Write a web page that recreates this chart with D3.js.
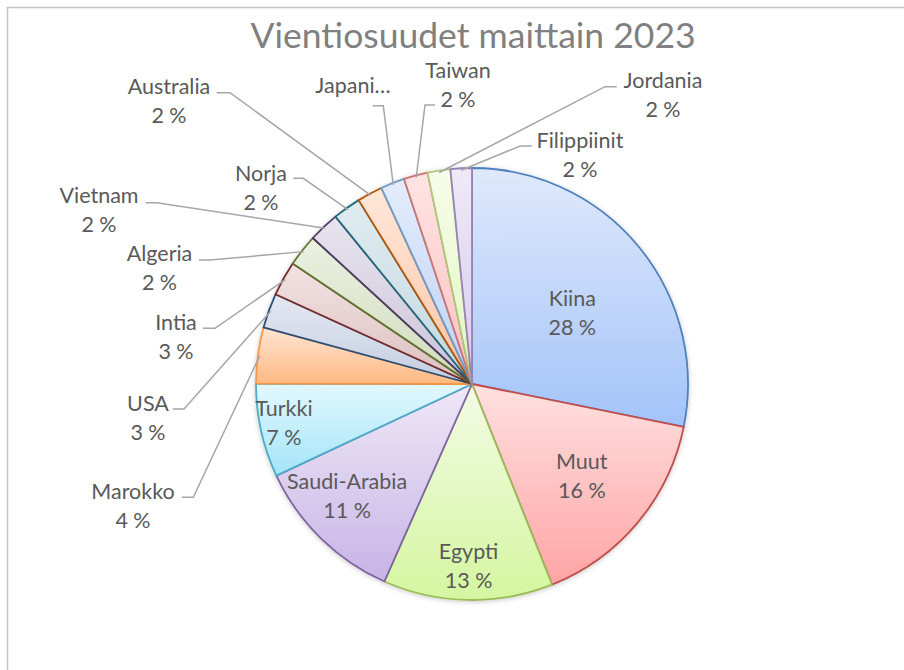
<!DOCTYPE html>
<html>
<head>
<meta charset="utf-8">
<script src="https://cdn.jsdelivr.net/npm/d3@7"></script>
<style>
  body { margin: 0; background: #fff; }
  svg { display: block; }
</style>
</head>
<body>
<div id="chart"></div>
<script>
// DATA
const title = "Vientiosuudet maittain 2023";
const countries = ["Kiina", "Muut", "Egypti", "Saudi-Arabia", "Turkki", "Marokko", "USA", "Intia",
  "Algeria", "Vietnam", "Norja", "Australia", "Japani", "Taiwan", "Jordania", "Filippiinit"];
const shares = [28.2, 15.8, 12.7, 11.4, 7.0, 4.2, 2.6, 2.6, 2.4, 2.3, 2.1, 1.9, 1.8, 1.8, 1.7, 1.6];

// COLOURS (outline, gradient top, gradient bottom)
const strokeColors = ["#4f81bd", "#c0504d", "#9bbb59", "#8064a2", "#4bacc6", "#f79646", "#2c4d75", "#772c2a",
  "#5f7530", "#4d3b62", "#276a7c", "#b65708", "#729aca", "#cd7371", "#afc97a", "#9983b5"];
const lightColors = ["#dfe9fb", "#ffe1e1", "#f3fbe5", "#efe8f7", "#e3f8ff", "#ffe4d3", "#e4e8f2", "#f2e2e2",
  "#ebf0e1", "#e8e4ee", "#e0ecf0", "#ffe7d9", "#e3ecfb", "#ffe4e4", "#f6fde9", "#efe9f7"];
const darkColors = ["#a3c3f9", "#ffa4a4", "#d4f6a0", "#c7b4e6", "#a3e4f8", "#ffb982", "#c3cde0", "#dcbfbf",
  "#d0dcbc", "#cbc3d9", "#c2d8e0", "#fdc4a4", "#bed2f4", "#fdc0c0", "#e2f6c2", "#d6cbec"];

// label layout: inside labels as [radius, angle nudge in degrees],
// outside labels by spot + leader hook [textSideX, elbowX, y]
const insideSpots = {
  "Kiina": [123, 3.9],
  "Muut": [143, 0],
  "Egypti": [182, 0],
  "Saudi-Arabia": [168, 3.6],
  "Turkki": [192, 0.9]
};
const outsideSpots = {
  "Marokko":     { at: [133, 491], hook: [181.7, 193.3, 497.3] },
  "USA":         { at: [148, 403], hook: [172.7, 184, 409] },
  "Intia":       { at: [176, 322], hook: [203, 215, 328.3] },
  "Algeria":     { at: [159.5, 253], hook: [199, 210, 260] },
  "Vietnam":     { at: [99, 195], hook: [145.7, 156.7, 202.7] },
  "Norja":       { at: [261, 172.5], hook: [293.3, 303.3, 178.3] },
  "Australia":   { at: [169, 86], hook: [216.7, 230, 92.7] },
  "Japani":      { at: [353, 85], hook: [372.7, 383.3, 105.7], clip: "Japani\u2026" },
  "Taiwan":      { at: [458, 70], hook: [435, 425, 105] },
  "Jordania":    { at: [663, 80], hook: [616.7, 605, 86.7] },
  "Filippiinit": { at: [580, 140], hook: [531.7, 520, 146] }
};

const W = 904, H = 670;
const cx = 472, cy = 384, R = 216;

const svg = d3.select("#chart").append("svg")
  .attr("width", W)
  .attr("height", H);

// chart frame
svg.append("rect")
  .attr("x", 7.5).attr("y", 7.5)
  .attr("width", W + 20).attr("height", H + 20)
  .attr("fill", "#fff")
  .attr("stroke", "#c4c4c4")
  .attr("stroke-width", 1.5);

// title
svg.append("text")
  .attr("x", 473).attr("y", 48)
  .attr("text-anchor", "middle")
  .style("font-family", "Lato, 'Open Sans', sans-serif")
  .style("font-size", "35.5px")
  .style("fill", "#808080")
  .text(title);

const data = countries.map((name, i) => ({ name, v: shares[i], i }));
const total = d3.sum(shares);
const pct = d => Math.round(d.data.v / total * 100) + " %";

const defs = svg.append("defs");
data.forEach((d, i) => {
  const g = defs.append("linearGradient")
    .attr("id", "grad" + i)
    .attr("x1", 0).attr("y1", 0).attr("x2", 0).attr("y2", 1);
  g.append("stop").attr("offset", "0%").attr("stop-color", lightColors[i]);
  g.append("stop").attr("offset", "100%").attr("stop-color", darkColors[i]);
});
const shadow = defs.append("filter").attr("id", "shadow")
  .attr("x", "-10%").attr("y", "-10%").attr("width", "120%").attr("height", "120%");
shadow.append("feDropShadow")
  .attr("dx", 0).attr("dy", 1).attr("stdDeviation", 2.5)
  .attr("flood-color", "#000").attr("flood-opacity", 0.22);

const pie = d3.pie().sort(null).value(d => d.v);
const arcs = pie(data);
const arc = d3.arc().innerRadius(0).outerRadius(R);

const g = svg.append("g").attr("transform", `translate(${cx},${cy})`);

g.append("g").attr("filter", "url(#shadow)")
  .selectAll("path")
  .data(arcs)
  .enter()
  .append("path")
  .attr("d", arc)
  .attr("fill", d => `url(#grad${d.data.i})`)
  .attr("stroke", d => strokeColors[d.data.i])
  .attr("stroke-width", 1.8)
  .attr("stroke-linejoin", "round");

const labelFont = "Lato, 'Open Sans', sans-serif";

// INSIDE LABELS
arcs.filter(d => insideSpots[d.data.name]).forEach(d => {
  const [r, nudge] = insideSpots[d.data.name];
  const a = (d.startAngle + d.endAngle) / 2 + nudge * Math.PI / 180;
  const p = [r * Math.sin(a), -r * Math.cos(a)];
  const t = g.append("text")
    .attr("text-anchor", "middle")
    .style("font-family", labelFont)
    .style("font-size", "21.5px")
    .style("fill", "#595959");
  t.append("tspan").attr("x", p[0]).attr("y", p[1] - 7).text(d.data.name);
  t.append("tspan").attr("x", p[0]).attr("y", p[1] + 22).text(pct(d));
});

// OUTSIDE LABELS + LEADER LINES
const edge = d3.arc().innerRadius(R - 2).outerRadius(R - 2);
arcs.filter(d => outsideSpots[d.data.name]).forEach(d => {
  const s = outsideSpots[d.data.name];
  const p = edge.centroid(d);
  const [x1, x2, y] = s.hook;
  svg.append("path")
    .attr("d", d3.line()([[x1, y], [x2, y], [p[0] + cx, p[1] + cy]]))
    .attr("fill", "none")
    .attr("stroke", "#a6a6a6")
    .attr("stroke-width", 1.5);

  const t = svg.append("text")
    .attr("text-anchor", "middle")
    .style("font-family", labelFont)
    .style("font-size", "21.5px")
    .style("fill", "#595959");
  t.append("tspan").attr("x", s.at[0]).attr("y", s.at[1] + 8).text(s.clip || d.data.name);
  if (!s.clip) t.append("tspan").attr("x", s.at[0]).attr("y", s.at[1] + 37).text(pct(d));
});
</script>
</body>
</html>
